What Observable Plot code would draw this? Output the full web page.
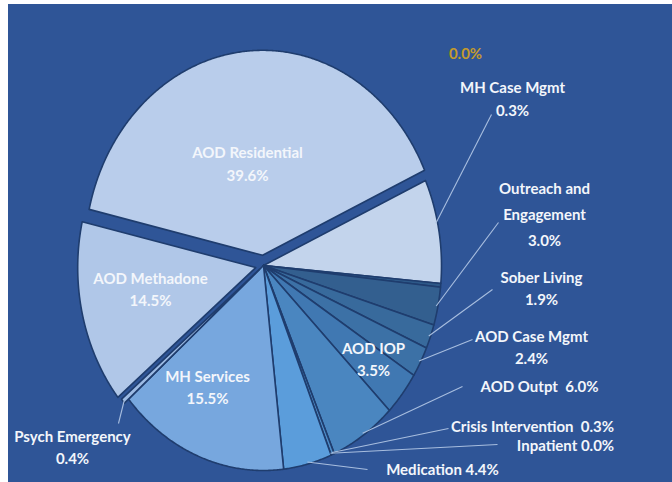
<!DOCTYPE html>
<html><head><meta charset="utf-8">
<script src="https://cdn.jsdelivr.net/npm/d3@7"></script>
<script src="https://cdn.jsdelivr.net/npm/@observablehq/plot@0.6"></script>
<style>
html,body{margin:0;padding:0;background:#fff;}
#chart{position:absolute;left:8px;top:4px;width:664px;height:478px;background:#2F5597;overflow:hidden;}
#chart svg{display:block;}
</style></head><body><div id="chart"></div>
<script>
// ---- data (clockwise, starting at the upper-right edge of the pie) ----
const categories = ["(blank)", "Other", "MH Case Mgmt", "Outreach and Engagement", "Sober Living", "AOD Case Mgmt", "AOD IOP", "AOD Outpt", "Crisis Intervention", "Inpatient", "Medication", "MH Services", "Psych Emergency", "AOD Methadone", "AOD Residential"];
const shares = [0.0, 8.2, 0.3, 3.0, 1.9, 2.4, 3.5, 6.0, 0.3, 0.0, 4.4, 15.5, 0.4, 14.5, 39.6];
const labelNames = ["", "", "MH Case Mgmt", "Outreach and\nEngagement", "Sober Living", "AOD Case Mgmt", "AOD IOP", "AOD Outpt ", "Crisis Intervention ", "Inpatient", "Medication", "MH Services", "Psych Emergency", "AOD Methadone", "AOD Residential"];

// ---- styles / layout ----
const sliceColors = ["#2F5597", "#C3D4EC", "#2D5888", "#335F8F", "#386A9C", "#3C71A6", "#4078B2", "#4A86C0", "#4F8DC8", "#5593D0", "#5B9DDB", "#77A7DE", "#9DBBE4", "#B0C7E8", "#B9CDEB"];
const explode = {"AOD Residential": 0.05, "AOD Methadone": 0.045, "Psych Emergency": 0.03};
// label block centres and leader starts, in pixels relative to the pie centre
const labelLayout = {
  "(blank)": {at: [202, -211], gold: true},
  "MH Case Mgmt": {at: [249, -168], sep: "\n", from: [228, -151], angle: 78},
  "Outreach and Engagement": {at: [281, -54], sep: "\n", from: [235, -43], tall: true},
  "Sober Living": {at: [278, 21.5], sep: "\n", from: [229, 24]},
  "AOD Case Mgmt": {at: [268, 80.5], sep: "\n", from: [209, 74]},
  "AOD IOP": {at: [110, 92.5], sep: "\n"},
  "AOD Outpt": {at: [276, 119], sep: " ", from: [199, 121]},
  "Crisis Intervention": {at: [269, 159], sep: " ", from: [185, 163]},
  "Inpatient": {at: [302, 178], sep: " ", from: [234, 179]},
  "Medication": {at: [179, 202], sep: " ", from: [104, 204]},
  "MH Services": {at: [-56, 120.5], sep: "\n"},
  "Psych Emergency": {at: [-191, 180.5], sep: "\n", from: [-145, 158]},
  "AOD Methadone": {at: [-113, 22.5], sep: "\n"},
  "AOD Residential": {at: [-16, -103], sep: "\n"}
};

const W = 664, H = 478, cx = 255, cy = 261, rx = 178, ry = 205;
const a0 = 65.5 * Math.PI / 180;

const data = categories.map((c, i) => ({name: c, value: shares[i], label: labelNames[i]}));
const arcs = d3.pie().sort(null).value(d => d.value).startAngle(a0).endAngle(a0 + 2 * Math.PI)(data);

const polys = [];
const links = [];
const texts = [];
const textsTall = [];
const gold = [];
for (const a of arcs) {
  const name = a.data.name;
  const mid = (a.startAngle + a.endAngle) / 2;
  const e = explode[name] || 0;
  const ox = e * Math.sin(mid), oy = -e * Math.cos(mid);
  if (a.data.value > 0) {
    const n = Math.max(2, Math.ceil((a.endAngle - a.startAngle) / (0.4 * Math.PI / 180)));
    polys.push({name, x: ox, y: oy});
    for (let k = 0; k <= n; k++) {
      const t = a.startAngle + (a.endAngle - a.startAngle) * k / n;
      polys.push({name, x: ox + Math.sin(t), y: oy - Math.cos(t)});
    }
    polys.push({name, x: ox, y: oy});
  }
  const L = labelLayout[name];
  if (!L) continue;
  const pct = a.data.value.toFixed(1) + "%";
  if (L.gold) { gold.push({x: L.at[0] / rx, y: L.at[1] / ry, text: pct}); continue; }
  const t = {x: L.at[0] / rx, y: L.at[1] / ry, text: a.data.label + L.sep + pct};
  (L.tall ? textsTall : texts).push(t);
  if (L.from) {
    const ang = L.angle != null ? L.angle * Math.PI / 180 : mid;
    links.push({x1: L.from[0] / rx, y1: L.from[1] / ry, x2: ox + 0.99 * Math.sin(ang), y2: oy - 0.99 * Math.cos(ang)});
  }
}

const font = {fontFamily: "Lato, 'Open Sans', sans-serif", fontWeight: 700, fontSize: 15};
const chart = Plot.plot({
  width: W, height: H, margin: 0,
  x: {domain: [-cx / rx, (W - cx) / rx], range: [0, W], axis: null},
  y: {domain: [-cy / ry, (H - cy) / ry], range: [0, H], axis: null},
  color: {domain: categories, range: sliceColors},
  style: {background: "transparent", overflow: "visible"},
  marks: [
    Plot.line(polys, {x: "x", y: "y", z: "name", fill: "name", stroke: "#1F3D6E", strokeWidth: 1.6, strokeLinejoin: "round", curve: "linear"}),
    Plot.link(links, {x1: "x1", y1: "y1", x2: "x2", y2: "y2", stroke: "#A8BEDF", strokeWidth: 1.1}),
    Plot.text(texts, {x: "x", y: "y", text: "text", fill: "#F3F6FB", lineHeight: 1.5, ...font}),
    Plot.text(textsTall, {x: "x", y: "y", text: "text", fill: "#F3F6FB", lineHeight: 1.75, ...font}),
    Plot.text(gold, {x: "x", y: "y", text: "text", fill: "#C49B2C", ...font})
  ]
});
document.getElementById("chart").appendChild(chart);
</script>
</body></html>
